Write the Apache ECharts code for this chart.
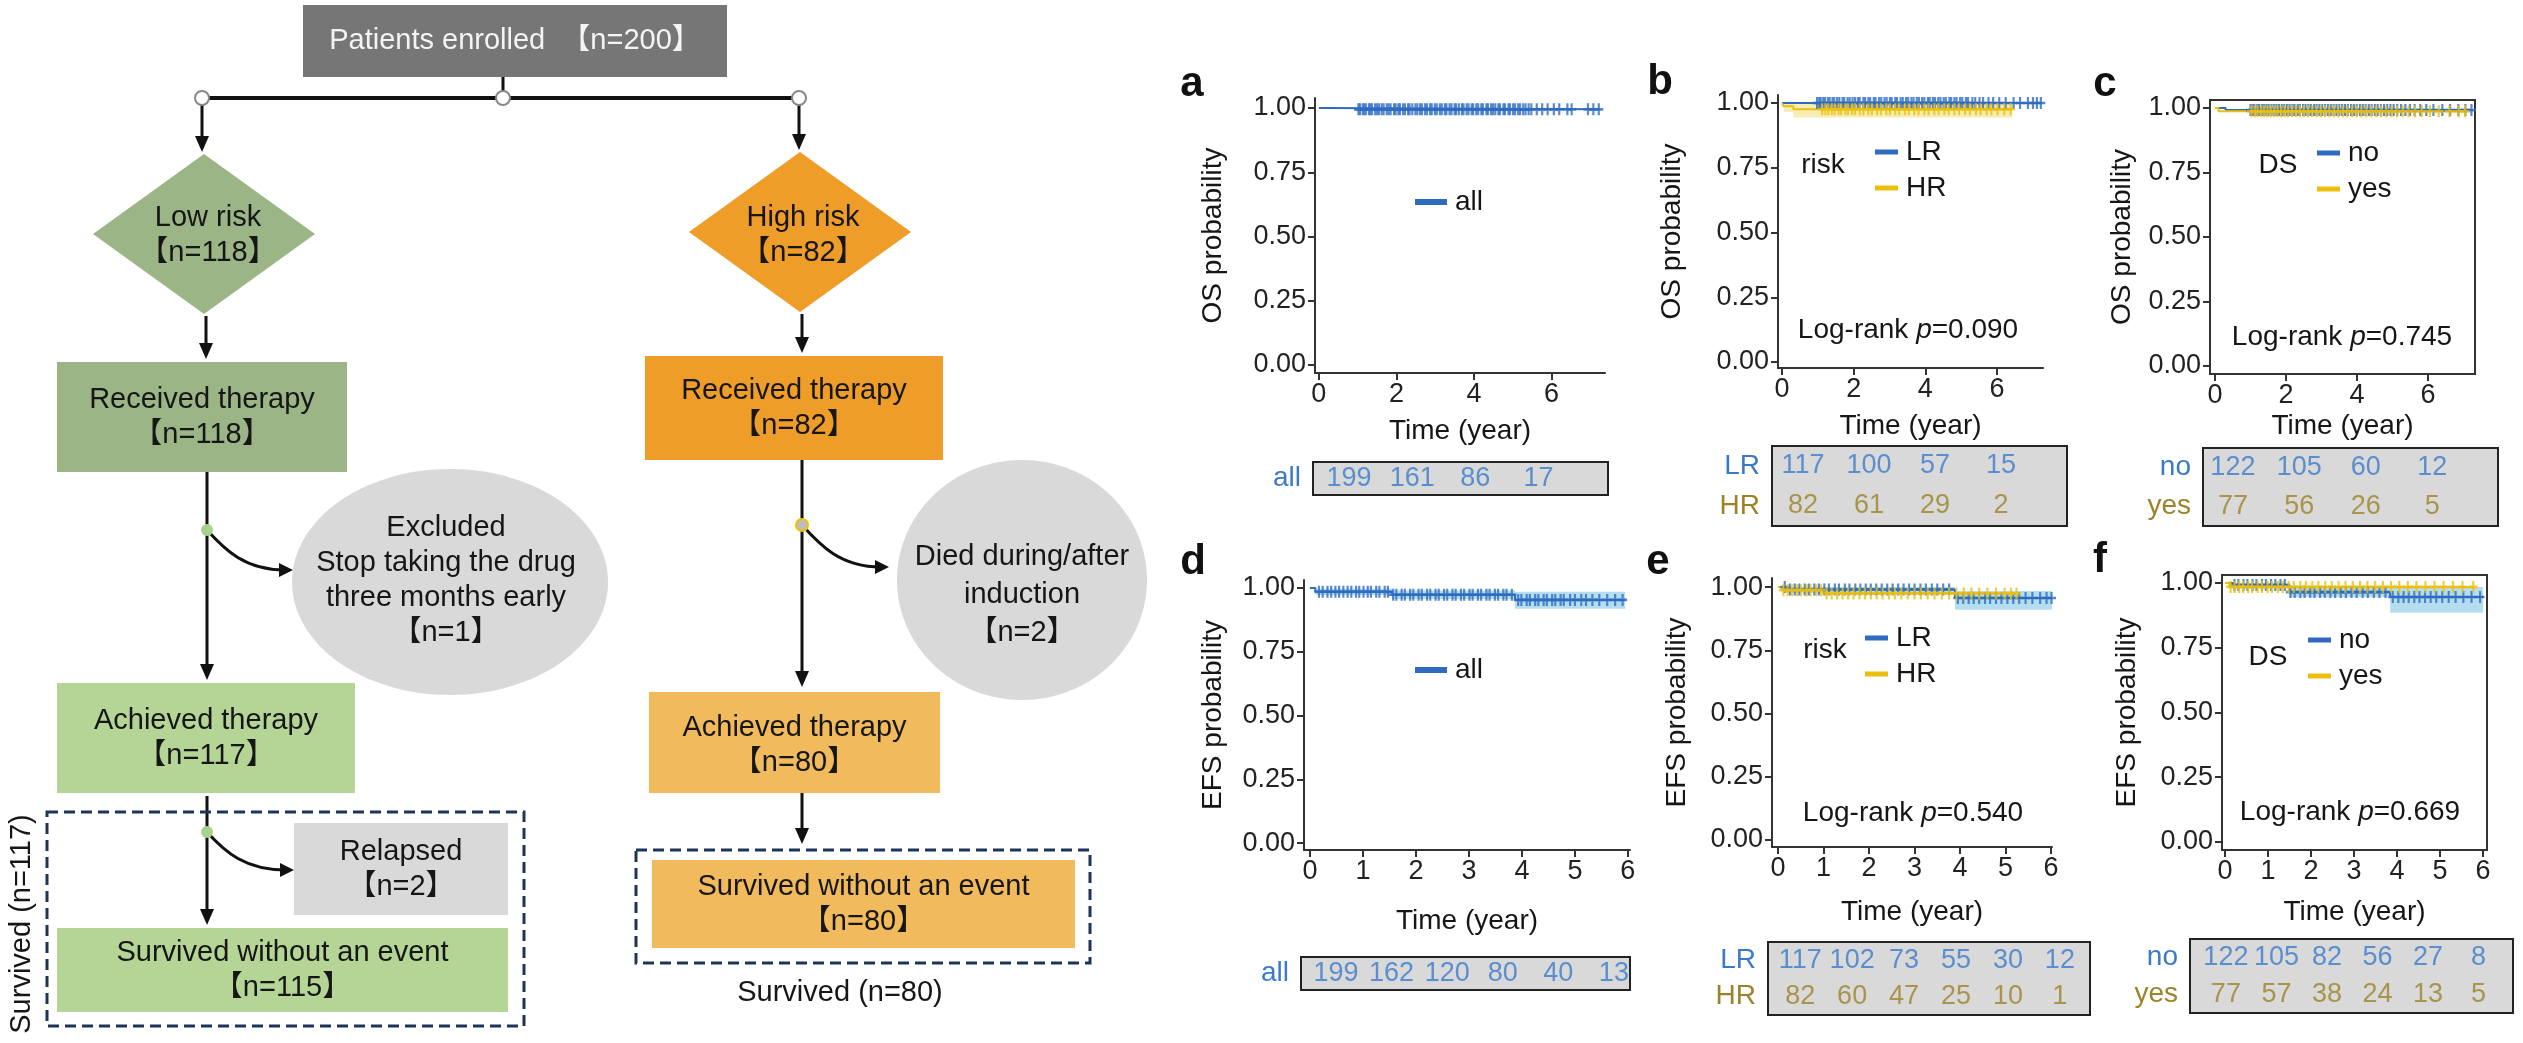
<!DOCTYPE html>
<html>
<head>
<meta charset="utf-8">
<script src="https://cdn.jsdelivr.net/npm/echarts@6/dist/echarts.min.js"></script>
<style>
html,body{margin:0;padding:0;background:#ffffff;}
#chart{width:2523px;height:1043px;}
</style>
</head>
<body>
<div id="chart"></div>
<script>
// ======================= DATA =======================
// Flowchart content
const enrolled = ['Patients enrolled', 200];
const lowBranch = [['Low risk', 118], ['Received therapy', 118], ['Achieved therapy', 117], ['Survived without an event', 115]];
const highBranch = [['High risk', 82], ['Received therapy', 82], ['Achieved therapy', 80], ['Survived without an event', 80]];
const lowExcluded = [['Excluded', 'Stop taking the drug', 'three months early'], 1];
const lowRelapsed = [['Relapsed'], 2];
const highDied = [['Died during/after', 'induction'], 2];
const survivedLow = ['Survived', 117];
const survivedHigh = ['Survived', 80];

// Axis ticks
const yTicks = [0, 0.25, 0.5, 0.75, 1];
const xTicksOS = [0, 2, 4, 6];
const xTicksEFS = [0, 1, 2, 3, 4, 5, 6];
const riskTimesOS = [0, 2, 4, 6];
const riskTimesEFS = [0, 1, 2, 3, 4, 5];
const pValues = ['0.090', '0.745', '0.540', '0.669'];

// Panel a: OS, all
const osAllTimes = [0, 0.08];
const osAllSurv = [1, 0.995];
const osAllEnd = 7.25;
const osAllCensor = [1.02,1.06,1.13,1.17,1.21,1.29,1.33,1.37,1.45,1.5,1.55,1.62,1.67,1.75,1.8,1.85,1.94,1.98,2.05,2.09,2.17,2.22,2.3,2.34,2.41,2.49,2.54,2.61,2.66,2.74,2.79,2.87,2.91,2.99,3.04,3.12,3.17,3.25,3.29,3.37,3.42,3.5,3.54,3.61,3.69,3.73,3.81,3.86,3.94,3.98,4.06,4.11,4.19,4.23,4.32,4.36,4.44,4.49,4.55,4.63,4.67,4.76,4.8,4.89,4.93,5.01,5.06,5.14,5.19,5.27,5.33,5.41,5.48,5.62,5.76,5.9,6.06,6.2,6.41,6.52,6.94,7.08,7.22];

// Panel b: OS by risk
const osLRTimes = [0];
const osLRSurv = [1];
const osLREnd = 7.25;
const osLRCensor = [0.98,1.04,1.08,1.15,1.2,1.28,1.33,1.41,1.46,1.54,1.6,1.69,1.74,1.83,1.89,1.97,2.04,2.12,2.17,2.27,2.32,2.41,2.46,2.56,2.61,2.71,2.77,2.86,2.92,3.01,3.06,3.16,3.21,3.31,3.37,3.46,3.52,3.61,3.67,3.76,3.82,3.91,3.97,4.07,4.12,4.21,4.27,4.36,4.42,4.51,4.57,4.67,4.72,4.81,4.87,4.97,5.03,5.13,5.19,5.31,5.39,5.51,5.61,5.76,5.89,6.06,6.24,6.46,6.64,6.86,7.0,7.11,7.22];
const osHRTimes = [0, 0.05, 0.32];
const osHRSurv = [1, 0.988, 0.976];
const osHRLower = [1, 0.965, 0.944];
const osHRUpper = [1, 1, 1];
const osHREnd = 6.42;
const osHRCensor = [1.12,1.21,1.29,1.39,1.47,1.58,1.65,1.77,1.84,1.96,2.04,2.17,2.27,2.41,2.51,2.65,2.76,2.91,3.01,3.16,3.27,3.43,3.54,3.69,3.81,3.97,4.09,4.25,4.37,4.53,4.65,4.81,4.94,5.11,5.24,5.41,5.54,5.71,5.84,6.01,6.2,6.38];

// Panel c: OS by DS
const osNoTimes = [0, 0.3];
const osNoSurv = [1, 0.992];
const osNoEnd = 7.25;
const osNoCensor = [1.0,1.06,1.11,1.19,1.24,1.32,1.38,1.45,1.51,1.59,1.66,1.73,1.8,1.88,1.95,2.03,2.1,2.18,2.24,2.33,2.39,2.48,2.55,2.63,2.7,2.79,2.86,2.94,3.02,3.1,3.18,3.26,3.34,3.42,3.5,3.58,3.66,3.74,3.83,3.91,3.99,4.08,4.16,4.24,4.33,4.41,4.5,4.58,4.67,4.76,4.85,4.94,5.03,5.13,5.24,5.36,5.49,5.62,5.78,5.95,6.15,6.4,6.62,6.85,7.05,7.22];
const osYesTimes = [0, 0.1];
const osYesSurv = [1, 0.987];
const osYesEnd = 7.1;
const osYesCensor = [1.03,1.12,1.2,1.3,1.38,1.48,1.57,1.67,1.76,1.86,1.96,2.06,2.17,2.28,2.39,2.5,2.62,2.74,2.86,2.98,3.1,3.22,3.35,3.47,3.6,3.73,3.86,3.99,4.12,4.26,4.4,4.54,4.68,4.82,4.97,5.12,5.28,5.45,5.63,5.82,6.05,6.3,6.6,6.86,7.04];

// Panel d: EFS, all
const efsAllTimes = [0, 0.1, 1.55, 3.87];
const efsAllSurv = [1, 0.985, 0.973, 0.953];
const efsAllLower = [1, 0.972, 0.957, 0.918];
const efsAllUpper = [1, 0.997, 0.99, 0.985];
const efsAllEnd = 5.95;
const efsAllCensor = [0.17,0.24,0.33,0.4,0.48,0.55,0.63,0.71,0.78,0.87,0.93,1.01,1.09,1.15,1.25,1.31,1.41,1.47,1.57,1.63,1.73,1.79,1.89,1.95,2.05,2.11,2.21,2.27,2.37,2.43,2.53,2.59,2.69,2.75,2.85,2.91,3.01,3.07,3.17,3.23,3.33,3.39,3.49,3.55,3.65,3.71,3.81,3.93,3.99,4.09,4.15,4.25,4.31,4.41,4.47,4.57,4.63,4.73,4.79,4.91,5.0,5.12,5.21,5.33,5.46,5.61,5.76,5.9];

// Panel e: EFS by risk
const efsLRTimes = [0, 0.2, 3.89];
const efsLRSurv = [1, 0.991, 0.957];
const efsLRLower = [1, 0.978, 0.91];
const efsLRUpper = [1, 1, 0.985];
const efsLREnd = 6.02;
const efsLRCensor = [0.15,0.26,0.37,0.47,0.59,0.68,0.8,0.9,1.02,1.12,1.25,1.34,1.47,1.57,1.7,1.81,1.93,2.04,2.16,2.28,2.4,2.52,2.64,2.76,2.88,3.0,3.13,3.25,3.38,3.5,3.63,3.76,3.95,4.07,4.19,4.3,4.42,4.55,4.66,4.79,4.91,5.04,5.17,5.3,5.44,5.59,5.76,5.9,6.01];
const efsHRTimes = [0, 0.1, 1.0];
const efsHRSurv = [1, 0.988, 0.975];
const efsHREnd = 5.25;
const efsHRCensor = [0.12,0.21,0.31,0.42,0.51,0.63,0.72,0.84,0.95,1.07,1.18,1.3,1.42,1.54,1.66,1.79,1.91,2.04,2.17,2.3,2.44,2.57,2.71,2.85,3.0,3.14,3.29,3.44,3.6,3.76,3.92,4.08,4.25,4.42,4.6,4.79,4.98,5.12,5.24];

// Panel f: EFS by DS
const efsNoTimes = [0, 0.2, 1.5, 3.84];
const efsNoSurv = [1, 0.992, 0.965, 0.946];
const efsNoLower = [1, 0.98, 0.945, 0.885];
const efsNoUpper = [1, 1, 0.985, 0.985];
const efsNoEnd = 6.0;
const efsNoCensor = [0.22,0.31,0.43,0.52,0.64,0.73,0.86,0.95,1.07,1.17,1.29,1.39,1.52,1.62,1.75,1.85,1.98,2.08,2.21,2.32,2.45,2.56,2.69,2.81,2.94,3.06,3.2,3.32,3.46,3.59,3.73,3.9,4.03,4.15,4.27,4.4,4.52,4.65,4.78,4.91,5.05,5.2,5.36,5.54,5.73,5.93];
const efsYesTimes = [0, 0.1];
const efsYesSurv = [1, 0.985];
const efsYesEnd = 5.8;
const efsYesCensor = [0.13,0.22,0.33,0.42,0.54,0.63,0.76,0.86,0.99,1.09,1.23,1.34,1.48,1.6,1.75,1.88,2.03,2.17,2.33,2.48,2.64,2.8,2.97,3.14,3.31,3.49,3.67,3.86,4.05,4.25,4.45,4.66,4.87,5.08,5.3,5.52,5.77];

// Numbers at risk
const riskA_all = [199, 161, 86, 17];
const riskB_LR = [117, 100, 57, 15];
const riskB_HR = [82, 61, 29, 2];
const riskC_no = [122, 105, 60, 12];
const riskC_yes = [77, 56, 26, 5];
const riskD_all = [199, 162, 120, 80, 40, 13];
const riskE_LR = [117, 102, 73, 55, 30, 12];
const riskE_HR = [82, 60, 47, 25, 10, 1];
const riskF_no = [122, 105, 82, 56, 27, 8];
const riskF_yes = [77, 57, 38, 24, 13, 5];

// ======================= STYLE / LAYOUT =======================
const FONT = '"Liberation Sans", Arial, "Noto Sans CJK SC", sans-serif';
const BLUE = '#2e6bc0', YEL = '#ecbf0f';
const BLUE_BAND = 'rgba(130,200,228,0.6)', YEL_BAND = 'rgba(242,226,130,0.6)';
const TBL_BLUE = '#3b7acb', TBL_OLIVE = '#9c8228';
const INK = '#161616';

const C_TOP = '#767676', C_LOW1 = '#9bb586', C_LOW2 = '#b4d595', C_HIGH1 = '#ee9d28', C_HIGH2 = '#f1ba5c', C_GREY = '#d9d9d9', C_DASH = '#1f3558';

const FL = {
  top: {x: 303, y: 5, w: 424, h: 72},
  joinY: 98, joinL: 202, joinC: 503, joinR: 799,
  lowDia: {cx: 204, cy: 234, hw: 111, hh: 80},
  highDia: {cx: 800, cy: 232, hw: 111, hh: 80},
  lowRecv: {x: 57, y: 362, w: 290, h: 110},
  highRecv: {x: 645, y: 356, w: 298, h: 104},
  exclEll: {cx: 450, cy: 582, rx: 158, ry: 113, tx: 446, ty: 580},
  diedEll: {cx: 1022, cy: 580, rx: 125, ry: 120, tx: 1022, ty: 595},
  lowAch: {x: 57, y: 683, w: 298, h: 110},
  highAch: {x: 649, y: 692, w: 291, h: 101},
  relapsed: {x: 294, y: 823, w: 214, h: 92},
  lowSurv: {x: 57, y: 928, w: 451, h: 84},
  highSurv: {x: 652, y: 860, w: 423, h: 88},
  lowDash: {x: 47, y: 812, w: 477, h: 214},
  highDash: {x: 636, y: 850, w: 454, h: 113},
  lowX: 207, highX: 802
};

const PL = {
  a: {grid: [1315, 98, 290, 275], xr: [-0.1, 7.38], yr: [-0.031, 1.039], box: false, yGap: 88, xGap: 44, letter: [1192, 84], legend: [1410, 183, 32, 6], header: null, pPos: null, table: [1313, 462, 295, 33], tx: [-1.14, 8.2]},
  b: {grid: [1778, 95, 265, 273], xr: [-0.11, 7.28], yr: [-0.023, 1.031], box: false, yGap: 92, xGap: 44, letter: [1660, 82], legend: [1870, 133, 23, 5], header: [1823, 165], pPos: [1908, 330], table: [1772, 446, 295, 80], tx: [-0.94, 8.0]},
  c: {grid: [2210, 100, 265, 274], xr: [-0.14, 7.32], yr: [-0.031, 1.031], box: true, yGap: 74, xGap: 38, letter: [2105, 84], legend: [2312, 134, 23, 5], header: [2278, 165], pPos: [2342, 337], table: [2203, 448, 295, 78], tx: [-0.9, 7.98]},
  d: {grid: [1304, 580, 326, 270], xr: [-0.113, 6.04], yr: [-0.027, 1.031], box: false, yGap: 77, xGap: 57, letter: [1193, 562], legend: [1410, 651, 32, 6], header: null, pPos: null, table: [1301, 957, 329, 33], tx: [-0.63, 5.29]},
  e: {grid: [1772, 578, 280, 269], xr: [-0.13, 6.02], yr: [-0.028, 1.036], box: false, yGap: 81, xGap: 51, letter: [1658, 562], legend: [1860, 619, 23, 5], header: [1825, 650], pPos: [1913, 813], table: [1768, 942, 322, 73], tx: [-0.62, 5.58]},
  f: {grid: [2222, 575, 265, 275], xr: [-0.07, 6.09], yr: [-0.031, 1.031], box: true, yGap: 81, xGap: 48, letter: [2100, 560], legend: [2303, 621, 23, 5], header: [2268, 657], pPos: [2350, 812], table: [2190, 939, 323, 74], tx: [-0.71, 5.68]}
};

const PANELS = [
  {key: 'a', yName: 'OS probability', xTicks: xTicksOS, legendData: ['all'], header: null, p: null,
   curves: [{name: 'all', times: osAllTimes, surv: osAllSurv, end: osAllEnd, censor: osAllCensor, color: BLUE}],
   riskTimes: riskTimesOS, rows: [{label: 'all', values: riskA_all, color: TBL_BLUE}]},
  {key: 'b', yName: 'OS probability', xTicks: xTicksOS, legendData: ['LR', 'HR'], header: 'risk', p: pValues[0],
   curves: [{name: 'LR', times: osLRTimes, surv: osLRSurv, end: osLREnd, censor: osLRCensor, color: BLUE},
            {name: 'HR', times: osHRTimes, surv: osHRSurv, end: osHREnd, censor: osHRCensor, color: YEL, lower: osHRLower, upper: osHRUpper, band: YEL_BAND}],
   riskTimes: riskTimesOS, rows: [{label: 'LR', values: riskB_LR, color: TBL_BLUE}, {label: 'HR', values: riskB_HR, color: TBL_OLIVE}]},
  {key: 'c', yName: 'OS probability', xTicks: xTicksOS, legendData: ['no', 'yes'], header: 'DS', p: pValues[1],
   curves: [{name: 'no', times: osNoTimes, surv: osNoSurv, end: osNoEnd, censor: osNoCensor, color: BLUE},
            {name: 'yes', times: osYesTimes, surv: osYesSurv, end: osYesEnd, censor: osYesCensor, color: YEL}],
   riskTimes: riskTimesOS, rows: [{label: 'no', values: riskC_no, color: TBL_BLUE}, {label: 'yes', values: riskC_yes, color: TBL_OLIVE}]},
  {key: 'd', yName: 'EFS probability', xTicks: xTicksEFS, legendData: ['all'], header: null, p: null,
   curves: [{name: 'all', times: efsAllTimes, surv: efsAllSurv, end: efsAllEnd, censor: efsAllCensor, color: BLUE, lower: efsAllLower, upper: efsAllUpper, band: BLUE_BAND}],
   riskTimes: riskTimesEFS, rows: [{label: 'all', values: riskD_all, color: TBL_BLUE}]},
  {key: 'e', yName: 'EFS probability', xTicks: xTicksEFS, legendData: ['LR', 'HR'], header: 'risk', p: pValues[2],
   curves: [{name: 'LR', times: efsLRTimes, surv: efsLRSurv, end: efsLREnd, censor: efsLRCensor, color: BLUE, lower: efsLRLower, upper: efsLRUpper, band: BLUE_BAND},
            {name: 'HR', times: efsHRTimes, surv: efsHRSurv, end: efsHREnd, censor: efsHRCensor, color: YEL}],
   riskTimes: riskTimesEFS, rows: [{label: 'LR', values: riskE_LR, color: TBL_BLUE}, {label: 'HR', values: riskE_HR, color: TBL_OLIVE}]},
  {key: 'f', yName: 'EFS probability', xTicks: xTicksEFS, legendData: ['no', 'yes'], header: 'DS', p: pValues[3],
   curves: [{name: 'no', times: efsNoTimes, surv: efsNoSurv, end: efsNoEnd, censor: efsNoCensor, color: BLUE, lower: efsNoLower, upper: efsNoUpper, band: BLUE_BAND},
            {name: 'yes', times: efsYesTimes, surv: efsYesSurv, end: efsYesEnd, censor: efsYesCensor, color: YEL}],
   riskTimes: riskTimesEFS, rows: [{label: 'no', values: riskF_no, color: TBL_BLUE}, {label: 'yes', values: riskF_yes, color: TBL_OLIVE}]}
];

// ======================= HELPERS =======================
function survAt(times, surv, t) {
  let s = surv[0];
  for (let i = 0; i < times.length; i++) if (times[i] <= t) s = surv[i];
  return s;
}
function stepData(times, vals, end) {
  const d = times.map((t, i) => [t, vals[i]]);
  d.push([end, vals[vals.length - 1]]);
  return d;
}
function bandSegments(times, lower, upper, end) {
  return times.map((t, i) => [t, i + 1 < times.length ? times[i + 1] : end, lower[i], upper[i]]);
}
const PLUS = 'path://M3.8,0H6.2V10H3.8Z M0,3.9H10V6.1H0Z';

function T(x, y, text, o) {
  o = o || {};
  const size = o.size || 29;
  const font = (o.italic ? 'italic ' : '') + (o.weight || 'normal') + ' ' + size + 'px ' + FONT;
  return {type: 'text', x: x, y: y, rotation: o.rot || 0, z: 20,
    style: {text: text, fill: o.fill || INK, font: font, align: o.align || 'center', verticalAlign: o.valign || 'middle',
      textAlign: o.align || 'center', textVerticalAlign: o.valign || 'middle', lineHeight: o.lh || 35}};
}
function R(b, fill, extra) {
  return Object.assign({type: 'rect', z: 5, shape: {x: b.x, y: b.y, width: b.w, height: b.h}, style: {fill: fill}}, extra || {});
}
function L(x1, y1, x2, y2, w) {
  return {type: 'line', z: 8, shape: {x1: x1, y1: y1, x2: x2, y2: y2}, style: {stroke: '#111', lineWidth: w || 3}};
}
function arrowDown(x, y1, tip) {
  return [L(x, y1, x, tip - 10, 3),
    {type: 'polygon', z: 8, shape: {points: [[x - 7, tip - 16], [x + 7, tip - 16], [x, tip]]}, style: {fill: '#111'}}];
}
function curveArrow(x0, y0, x1, y1) {
  return [{type: 'bezierCurve', z: 8, shape: {x1: x0, y1: y0, cpx1: x0 + 18, cpy1: y0 + 20, cpx2: x0 + 38, cpy2: y1, x2: x1 - 8, y2: y1},
    style: {stroke: '#111', lineWidth: 3, fill: null}},
    {type: 'polygon', z: 8, shape: {points: [[x1 - 14, y1 - 7], [x1 - 14, y1 + 7], [x1, y1]]}, style: {fill: '#111'}}];
}
function nb(n) { return '\u3010n=' + n + '\u3011'; }
function diamond(d, fill) {
  return {type: 'polygon', z: 5, shape: {points: [[d.cx, d.cy - d.hh], [d.cx + d.hw, d.cy], [d.cx, d.cy + d.hh], [d.cx - d.hw, d.cy]]}, style: {fill: fill}};
}

// ======================= FLOWCHART =======================
const G = [];
G.push(R(FL.top, C_TOP));
G.push(T(FL.top.x + FL.top.w / 2, FL.top.y + FL.top.h / 2, enrolled[0] + '  ' + nb(enrolled[1]), {fill: '#f4f4f4'}));
G.push(L(FL.joinC, FL.top.y + FL.top.h, FL.joinC, FL.joinY, 3));
G.push(L(FL.joinL, FL.joinY, FL.joinR, FL.joinY, 4));
G.push(...arrowDown(FL.joinL, FL.joinY, FL.lowDia.cy - FL.lowDia.hh - 2));
G.push(...arrowDown(FL.joinR, FL.joinY, FL.highDia.cy - FL.highDia.hh - 2));
[FL.joinL, FL.joinC, FL.joinR].forEach(x => G.push({type: 'circle', z: 9, shape: {cx: x, cy: FL.joinY, r: 7}, style: {fill: '#fff', stroke: '#888', lineWidth: 2}}));

// low branch
G.push(diamond(FL.lowDia, C_LOW1));
G.push(T(FL.lowDia.cx + 4, FL.lowDia.cy + 1, lowBranch[0][0] + '\n' + nb(lowBranch[0][1])));
G.push(...arrowDown(FL.lowX - 1, FL.lowDia.cy + FL.lowDia.hh + 2, FL.lowRecv.y - 3));
G.push(R(FL.lowRecv, C_LOW1));
G.push(T(FL.lowRecv.x + FL.lowRecv.w / 2, FL.lowRecv.y + FL.lowRecv.h / 2, lowBranch[1][0] + '\n' + nb(lowBranch[1][1])));
G.push(...arrowDown(FL.lowX, FL.lowRecv.y + FL.lowRecv.h, FL.lowAch.y - 3));
G.push({type: 'ellipse', z: 4, shape: {cx: FL.exclEll.cx, cy: FL.exclEll.cy, rx: FL.exclEll.rx, ry: FL.exclEll.ry}, style: {fill: C_GREY}});
G.push(T(FL.exclEll.tx, FL.exclEll.ty, lowExcluded[0].join('\n') + '\n' + nb(lowExcluded[1])));
G.push(...curveArrow(FL.lowX, 530, 293, 570));
G.push({type: 'circle', z: 9, shape: {cx: FL.lowX, cy: 530, r: 6}, style: {fill: '#a9d18e'}});
G.push(R(FL.lowAch, C_LOW2));
G.push(T(FL.lowAch.x + FL.lowAch.w / 2, FL.lowAch.y + FL.lowAch.h / 2, lowBranch[2][0] + '\n' + nb(lowBranch[2][1])));
G.push(...arrowDown(FL.lowX, FL.lowAch.y + FL.lowAch.h + 3, FL.lowSurv.y - 3));
G.push(R(FL.relapsed, C_GREY));
G.push(T(FL.relapsed.x + FL.relapsed.w / 2, FL.relapsed.y + FL.relapsed.h / 2, lowRelapsed[0].join('\n') + '\n' + nb(lowRelapsed[1])));
G.push(...curveArrow(FL.lowX, 832, 294, 870));
G.push({type: 'circle', z: 9, shape: {cx: FL.lowX, cy: 832, r: 6}, style: {fill: '#a9d18e'}});
G.push(R(FL.lowSurv, C_LOW2));
G.push(T(FL.lowSurv.x + FL.lowSurv.w / 2, FL.lowSurv.y + FL.lowSurv.h / 2, lowBranch[3][0] + '\n' + nb(lowBranch[3][1])));
G.push(R(FL.lowDash, 'none', {z: 9, style: {fill: 'none', stroke: C_DASH, lineWidth: 3, lineDash: [11, 6]}}));
G.push(T(22, FL.lowDash.y + FL.lowDash.h / 2 + 5, survivedLow[0] + ' (n=' + survivedLow[1] + ')', {rot: Math.PI / 2}));

// high branch
G.push(diamond(FL.highDia, C_HIGH1));
G.push(T(FL.highDia.cx + 3, FL.highDia.cy + 3, highBranch[0][0] + '\n' + nb(highBranch[0][1])));
G.push(...arrowDown(FL.highX, FL.highDia.cy + FL.highDia.hh + 2, FL.highRecv.y - 3));
G.push(R(FL.highRecv, C_HIGH1));
G.push(T(FL.highRecv.x + FL.highRecv.w / 2, FL.highRecv.y + FL.highRecv.h / 2, highBranch[1][0] + '\n' + nb(highBranch[1][1])));
G.push(...arrowDown(FL.highX, FL.highRecv.y + FL.highRecv.h, FL.highAch.y - 5));
G.push({type: 'ellipse', z: 4, shape: {cx: FL.diedEll.cx, cy: FL.diedEll.cy, rx: FL.diedEll.rx, ry: FL.diedEll.ry}, style: {fill: C_GREY}});
G.push(T(FL.diedEll.tx, FL.diedEll.ty, highDied[0].join('\n') + '\n' + nb(highDied[1]), {lh: 38}));
G.push(...curveArrow(FL.highX, 525, 889, 567));
G.push({type: 'circle', z: 9, shape: {cx: FL.highX, cy: 525, r: 6}, style: {fill: '#bdbdbd', stroke: '#f0c000', lineWidth: 2}});
G.push(R(FL.highAch, C_HIGH2));
G.push(T(FL.highAch.x + FL.highAch.w / 2, FL.highAch.y + FL.highAch.h / 2 + 3, highBranch[2][0] + '\n' + nb(highBranch[2][1])));
G.push(...arrowDown(FL.highX, FL.highAch.y + FL.highAch.h, FL.highDash.y - 6));
G.push(R(FL.highSurv, C_HIGH2));
G.push(T(FL.highSurv.x + FL.highSurv.w / 2, FL.highSurv.y + FL.highSurv.h / 2, highBranch[3][0] + '\n' + nb(highBranch[3][1])));
G.push(R(FL.highDash, 'none', {z: 9, style: {fill: 'none', stroke: C_DASH, lineWidth: 3, lineDash: [11, 6]}}));
G.push(T(840, 993, survivedHigh[0] + ' (n=' + survivedHigh[1] + ')'));

// ======================= KM PANELS =======================
const grids = [], xAxes = [], yAxes = [], series = [], legends = [];
const axisColor = '#333';

PANELS.forEach(P => {
  const lay = PL[P.key];
  const gi = grids.length;
  grids.push({left: lay.grid[0], top: lay.grid[1], width: lay.grid[2], height: lay.grid[3], containLabel: false,
    show: lay.box, borderColor: axisColor, borderWidth: 2, backgroundColor: 'transparent'});
  xAxes.push({gridIndex: gi, type: 'value', min: lay.xr[0], max: lay.xr[1],
    axisLine: {show: true, onZero: false, lineStyle: {color: axisColor, width: 2}},
    axisTick: {show: true, length: 7, lineStyle: {color: axisColor, width: 2}, customValues: P.xTicks},
    axisLabel: {customValues: P.xTicks, formatter: v => String(v), fontSize: 27, color: '#222', fontFamily: FONT, margin: 8},
    splitLine: {show: false},
    name: 'Time (year)', nameLocation: 'middle', nameGap: lay.xGap, nameTextStyle: {fontSize: 28, color: INK, fontFamily: FONT}});
  yAxes.push({gridIndex: gi, type: 'value', min: lay.yr[0], max: lay.yr[1],
    axisLine: {show: true, onZero: false, lineStyle: {color: axisColor, width: 2}},
    axisTick: {show: true, length: 7, lineStyle: {color: axisColor, width: 2}, customValues: yTicks},
    axisLabel: {customValues: yTicks, formatter: v => v.toFixed(2), fontSize: 27, color: '#222', fontFamily: FONT, margin: 9},
    splitLine: {show: false},
    name: P.yName, nameLocation: 'middle', nameGap: lay.yGap, nameTextStyle: {fontSize: 28, color: INK, fontFamily: FONT}});

  // confidence bands (step rectangles)
  P.curves.forEach(c => {
    if (!c.lower) return;
    const fill = c.band;
    series.push({type: 'custom', name: c.name + '_band_' + P.key, xAxisIndex: gi, yAxisIndex: gi, silent: true, z: 1,
      data: bandSegments(c.times, c.lower, c.upper, c.end),
      renderItem: (params, api) => {
        const p0 = api.coord([api.value(0), api.value(3)]);
        const p1 = api.coord([api.value(1), api.value(2)]);
        return {type: 'rect', shape: {x: p0[0], y: p0[1], width: p1[0] - p0[0], height: p1[1] - p0[1]}, style: {fill: fill}};
      }});
  });
  P.curves.forEach(c => {
    series.push({type: 'line', name: c.name, xAxisIndex: gi, yAxisIndex: gi, step: 'end', color: c.color,
      data: stepData(c.times, c.surv, c.end), symbol: 'none', showSymbol: false,
      lineStyle: {color: c.color, width: 2}, itemStyle: {color: c.color}, z: 3});
  });
  P.curves.forEach(c => {
    series.push({type: 'scatter', name: c.name + '_cens_' + P.key, xAxisIndex: gi, yAxisIndex: gi,
      data: c.censor.map(t => [t, survAt(c.times, c.surv, t)]), symbol: PLUS, symbolSize: [9, 12],
      itemStyle: {color: c.color}, silent: true, z: 4});
  });
  legends.push({left: lay.legend[0], top: lay.legend[1], orient: 'vertical', data: P.legendData, icon: 'rect',
    itemWidth: lay.legend[2], itemHeight: lay.legend[3], itemGap: 8, selectedMode: false,
    textStyle: {fontSize: 28, color: INK, fontFamily: FONT, padding: [0, 0, 0, 3]}});

  // letters, headers, p-values
  G.push(T(lay.letter[0], lay.letter[1], P.key, {size: 42, weight: 'bold', fill: '#111'}));
  if (P.header) G.push(T(lay.header[0], lay.header[1], P.header, {size: 28}));
  if (P.p) {
    G.push({type: 'text', x: lay.pPos[0], y: lay.pPos[1], z: 20,
      style: {text: '{n|Log-rank }{i|p}{n|=' + P.p + '}', align: 'center', verticalAlign: 'middle', textAlign: 'center', textVerticalAlign: 'middle',
        rich: {n: {fontSize: 28, fontFamily: FONT, fill: INK, color: INK}, i: {fontSize: 28, fontFamily: FONT, fontStyle: 'italic', fill: INK, color: INK}}}});
  }

  // risk table
  const ti = grids.length;
  const tb = lay.table;
  grids.push({left: tb[0], top: tb[1], width: tb[2], height: tb[3], show: true, backgroundColor: '#d9d9d9', borderColor: '#222', borderWidth: 2});
  xAxes.push({gridIndex: ti, type: 'value', min: lay.tx[0], max: lay.tx[1], show: false});
  const rowColors = P.rows.map(r => r.color);
  yAxes.push({gridIndex: ti, type: 'category', inverse: true, data: P.rows.map(r => r.label),
    axisLine: {show: false}, axisTick: {show: false}, splitLine: {show: false},
    axisLabel: {fontSize: 28, fontFamily: FONT, margin: 12, color: (v, i) => rowColors[i]}});
  P.rows.forEach(r => {
    series.push({type: 'scatter', name: 'risk_' + P.key + '_' + r.label, xAxisIndex: ti, yAxisIndex: ti,
      data: r.values.map((v, j) => [P.riskTimes[j], r.label, v]), symbolSize: 1, itemStyle: {color: 'rgba(0,0,0,0)'},
      label: {show: true, position: 'inside', formatter: p => String(p.value[2]), fontSize: 27, fontFamily: FONT, color: r.color},
      silent: true, z: 5});
  });
});

const chart = echarts.init(document.getElementById('chart'), null, {renderer: 'canvas'});
chart.setOption({
  animation: false,
  backgroundColor: '#ffffff',
  textStyle: {fontFamily: FONT},
  grid: grids, xAxis: xAxes, yAxis: yAxes, series: series, legend: legends,
  graphic: {elements: G}
});
</script>
</body>
</html>
